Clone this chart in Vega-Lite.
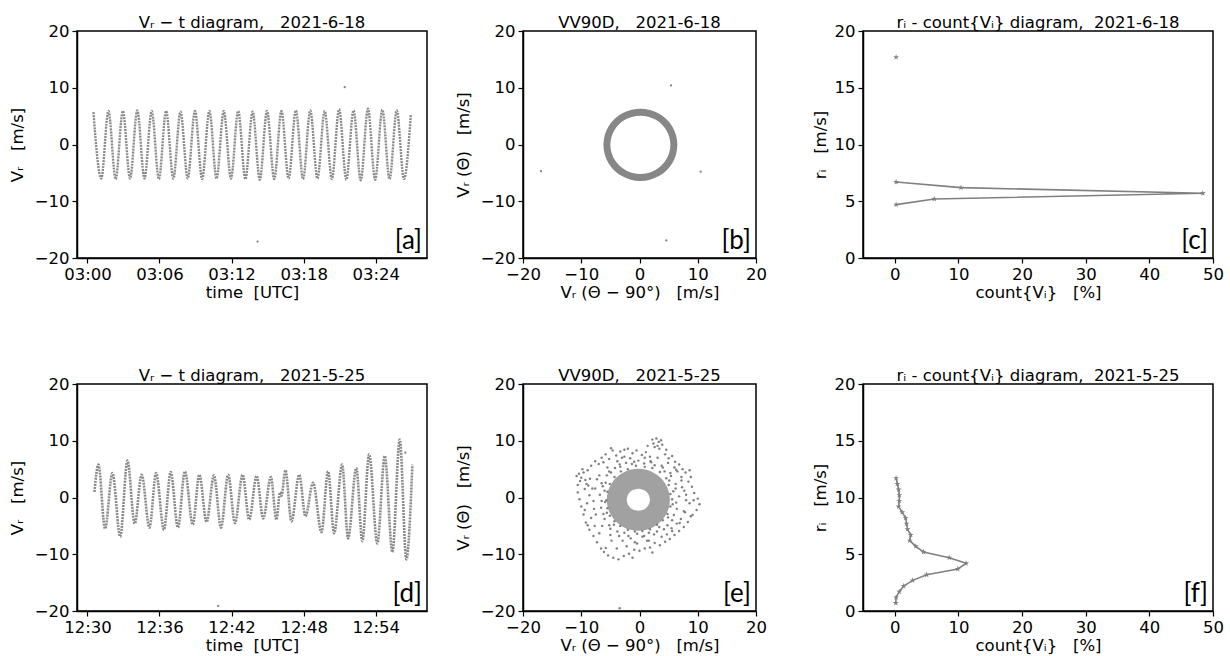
{
"$schema": "https://vega.github.io/schema/vega-lite/v6.json",
"padding": {"left": 8, "top": 13, "right": 5, "bottom": 0},
"config": {
  "font": "DejaVu Sans",
  "view": {"stroke": "black", "strokeWidth": 1.5},
  "axis": {"domainColor": "black", "domainWidth": 1.5, "tickColor": "black", "tickWidth": 1.2, "tickSize": 5, "labelFont": "DejaVu Sans", "labelFontSize": 16.5, "labelColor": "black", "titleFont": "DejaVu Sans", "titleFontSize": 16.5, "titleFontWeight": "normal", "titleColor": "black", "grid": false, "labelFlush": false, "labelOverlap": false, "labelPadding": 3},
  "axisX": {"titlePadding": 2},
  "title": {"font": "DejaVu Sans", "fontSize": 16.5, "fontWeight": "normal", "color": "black", "offset": -8}
},
"datasets": {
  "a_line": [
    {"t":"2021-06-18T03:00:30Z","v":5.7},{"t":"2021-06-18T03:01:09Z","v":-6.0},{"t":"2021-06-18T03:01:45Z","v":5.9},{"t":"2021-06-18T03:02:21Z","v":-6.1},
    {"t":"2021-06-18T03:02:57Z","v":5.9},{"t":"2021-06-18T03:03:33Z","v":-6.0},{"t":"2021-06-18T03:04:09Z","v":6.0},{"t":"2021-06-18T03:04:45Z","v":-6.0},
    {"t":"2021-06-18T03:05:21Z","v":5.9},{"t":"2021-06-18T03:05:57Z","v":-6.1},{"t":"2021-06-18T03:06:33Z","v":5.9},{"t":"2021-06-18T03:07:09Z","v":-6.0},
    {"t":"2021-06-18T03:07:45Z","v":5.8},{"t":"2021-06-18T03:08:21Z","v":-6.0},{"t":"2021-06-18T03:08:57Z","v":5.9},{"t":"2021-06-18T03:09:33Z","v":-6.1},
    {"t":"2021-06-18T03:10:09Z","v":5.9},{"t":"2021-06-18T03:10:45Z","v":-6.0},{"t":"2021-06-18T03:11:21Z","v":5.9},{"t":"2021-06-18T03:11:57Z","v":-6.0},
    {"t":"2021-06-18T03:12:33Z","v":5.9},{"t":"2021-06-18T03:13:09Z","v":-6.1},{"t":"2021-06-18T03:13:45Z","v":5.8},{"t":"2021-06-18T03:14:21Z","v":-6.2},
    {"t":"2021-06-18T03:14:57Z","v":5.9},{"t":"2021-06-18T03:15:33Z","v":-6.1},{"t":"2021-06-18T03:16:09Z","v":5.9},{"t":"2021-06-18T03:16:45Z","v":-6.0},
    {"t":"2021-06-18T03:17:21Z","v":6.0},{"t":"2021-06-18T03:17:57Z","v":-6.1},{"t":"2021-06-18T03:18:33Z","v":6.0},{"t":"2021-06-18T03:19:09Z","v":-6.0},
    {"t":"2021-06-18T03:19:45Z","v":5.9},{"t":"2021-06-18T03:20:21Z","v":-6.1},{"t":"2021-06-18T03:20:57Z","v":6.2},{"t":"2021-06-18T03:21:33Z","v":-6.2},
    {"t":"2021-06-18T03:22:09Z","v":6.0},{"t":"2021-06-18T03:22:45Z","v":-6.3},{"t":"2021-06-18T03:23:21Z","v":6.3},{"t":"2021-06-18T03:23:57Z","v":-6.2},
    {"t":"2021-06-18T03:24:33Z","v":6.1},{"t":"2021-06-18T03:25:09Z","v":-6.1},{"t":"2021-06-18T03:25:45Z","v":6.0},{"t":"2021-06-18T03:26:21Z","v":-6.1},
    {"t":"2021-06-18T03:26:55Z","v":5.2}
  ],
  "a_out": [{"t":"2021-06-18T03:21:25Z","v":10.1},{"t":"2021-06-18T03:14:10Z","v":-17.1}],
  "b_ring": [
    {"i":0,"x":5.90,"y":-0.05},{"i":1,"x":5.70,"y":1.44},{"i":2,"x":5.13,"y":2.83},{"i":3,"x":4.22,"y":4.02},{"i":4,"x":3.03,"y":4.93},{"i":5,"x":1.64,"y":5.50},
    {"i":6,"x":0.15,"y":5.70},{"i":7,"x":-1.34,"y":5.50},{"i":8,"x":-2.73,"y":4.93},{"i":9,"x":-3.92,"y":4.02},{"i":10,"x":-4.83,"y":2.83},{"i":11,"x":-5.40,"y":1.44},
    {"i":12,"x":-5.60,"y":-0.05},{"i":13,"x":-5.40,"y":-1.54},{"i":14,"x":-4.83,"y":-2.93},{"i":15,"x":-3.92,"y":-4.12},{"i":16,"x":-2.73,"y":-5.03},{"i":17,"x":-1.34,"y":-5.60},
    {"i":18,"x":0.15,"y":-5.80},{"i":19,"x":1.64,"y":-5.60},{"i":20,"x":3.03,"y":-5.03},{"i":21,"x":4.22,"y":-4.12},{"i":22,"x":5.13,"y":-2.93},{"i":23,"x":5.70,"y":-1.54}
  ],
  "b_out": [{"x":5.4,"y":10.4},{"x":-16.9,"y":-4.7},{"x":10.5,"y":-4.8},{"x":4.6,"y":-16.9}],
  "c_pts": [
    {"cnt":0.2,"r":4.7,"g":1},{"cnt":6.2,"r":5.2,"g":1},{"cnt":48.4,"r":5.7,"g":1},{"cnt":10.4,"r":6.2,"g":1},{"cnt":0.2,"r":6.7,"g":1},{"cnt":0.2,"r":17.7,"g":2}
  ],
  "d_line": [
    {"t":"2021-05-25T12:30:35Z","v":1.0},{"t":"2021-05-25T12:30:55Z","v":5.8},{"t":"2021-05-25T12:31:28Z","v":-5.5},{"t":"2021-05-25T12:32:05Z","v":4.3},
    {"t":"2021-05-25T12:32:44Z","v":-6.9},{"t":"2021-05-25T12:33:20Z","v":6.5},{"t":"2021-05-25T12:33:56Z","v":-4.6},{"t":"2021-05-25T12:34:31Z","v":4.0},
    {"t":"2021-05-25T12:35:10Z","v":-5.3},{"t":"2021-05-25T12:35:43Z","v":4.3},{"t":"2021-05-25T12:36:22Z","v":-5.7},{"t":"2021-05-25T12:36:56Z","v":4.5},
    {"t":"2021-05-25T12:37:32Z","v":-5.3},{"t":"2021-05-25T12:38:07Z","v":4.6},{"t":"2021-05-25T12:38:46Z","v":-4.8},{"t":"2021-05-25T12:39:19Z","v":4.0},
    {"t":"2021-05-25T12:39:55Z","v":-4.3},{"t":"2021-05-25T12:40:32Z","v":3.9},{"t":"2021-05-25T12:41:07Z","v":-5.3},{"t":"2021-05-25T12:41:43Z","v":4.0},
    {"t":"2021-05-25T12:42:17Z","v":-4.5},{"t":"2021-05-25T12:42:55Z","v":4.0},{"t":"2021-05-25T12:43:28Z","v":-3.9},{"t":"2021-05-25T12:44:05Z","v":3.8},
    {"t":"2021-05-25T12:44:38Z","v":-3.7},{"t":"2021-05-25T12:45:16Z","v":3.6},{"t":"2021-05-25T12:45:44Z","v":-3.9},{"t":"2021-05-25T12:46:02Z","v":0.9},
    {"t":"2021-05-25T12:46:09Z","v":0.3},{"t":"2021-05-25T12:46:29Z","v":4.8},{"t":"2021-05-25T12:46:59Z","v":-4.2},{"t":"2021-05-25T12:47:38Z","v":4.0},
    {"t":"2021-05-25T12:48:09Z","v":-3.3},{"t":"2021-05-25T12:48:47Z","v":2.6},{"t":"2021-05-25T12:49:29Z","v":-6.1},{"t":"2021-05-25T12:50:02Z","v":4.6},
    {"t":"2021-05-25T12:50:32Z","v":-6.3},{"t":"2021-05-25T12:51:12Z","v":5.8},{"t":"2021-05-25T12:51:42Z","v":-7.2},{"t":"2021-05-25T12:52:23Z","v":5.2},
    {"t":"2021-05-25T12:52:53Z","v":-7.7},{"t":"2021-05-25T12:53:27Z","v":7.6},{"t":"2021-05-25T12:54:08Z","v":-8.1},{"t":"2021-05-25T12:54:45Z","v":7.3},
    {"t":"2021-05-25T12:55:23Z","v":-9.6},{"t":"2021-05-25T12:56:00Z","v":10.2},{"t":"2021-05-25T12:56:33Z","v":-10.9},{"t":"2021-05-25T12:57:03Z","v":5.8}
  ],
  "d_out": [{"t":"2021-05-25T12:40:53Z","v":-19.1},{"t":"2021-05-25T12:56:28Z","v":7.9}],
  "e_ring": [
    {"i":0,"x":3.5,"y":-0.4},{"i":1,"x":3.37,"y":0.56},{"i":2,"x":3.0,"y":1.45},{"i":3,"x":2.42,"y":2.22},{"i":4,"x":1.65,"y":2.80},{"i":5,"x":0.76,"y":3.17},
    {"i":6,"x":-0.2,"y":3.3},{"i":7,"x":-1.16,"y":3.17},{"i":8,"x":-2.05,"y":2.80},{"i":9,"x":-2.82,"y":2.22},{"i":10,"x":-3.40,"y":1.45},{"i":11,"x":-3.77,"y":0.56},
    {"i":12,"x":-3.9,"y":-0.4},{"i":13,"x":-3.77,"y":-1.36},{"i":14,"x":-3.40,"y":-2.25},{"i":15,"x":-2.82,"y":-3.02},{"i":16,"x":-2.05,"y":-3.60},{"i":17,"x":-1.16,"y":-3.97},
    {"i":18,"x":-0.2,"y":-4.1},{"i":19,"x":0.76,"y":-3.97},{"i":20,"x":1.65,"y":-3.60},{"i":21,"x":2.42,"y":-3.02},{"i":22,"x":3.0,"y":-2.25},{"i":23,"x":3.37,"y":-1.36}
  ],
  "e_pts": [
    {"x":-10.8,"y":3.8},{"x":-10.4,"y":4.2},{"x":-10.0,"y":3.5},{"x":-9.6,"y":4.4},{"x":-10.2,"y":2.9},{"x":-9.3,"y":3.1},{"x":-9.8,"y":5.0},{"x":-8.9,"y":4.8},{"x":-10.6,"y":2.2},{"x":-9.1,"y":2.4},
    {"x":-8.3,"y":5.6},{"x":-7.6,"y":6.4},{"x":-7.0,"y":5.9},{"x":-6.5,"y":7.0},{"x":-5.8,"y":7.6},{"x":-5.2,"y":6.8},{"x":-4.6,"y":8.3},{"x":-4.0,"y":7.4},{"x":-3.3,"y":8.1},{"x":-2.6,"y":7.2},
    {"x":-2.0,"y":8.6},{"x":-1.2,"y":7.8},{"x":-0.5,"y":8.3},{"x":0.4,"y":7.5},{"x":1.1,"y":8.0},{"x":1.8,"y":7.2},{"x":-4.9,"y":8.7},
    {"x":2.4,"y":9.5},{"x":2.9,"y":10.4},{"x":3.3,"y":9.8},{"x":3.7,"y":10.1},{"x":2.6,"y":8.9},{"x":3.1,"y":9.1},{"x":3.9,"y":9.3},{"x":3.4,"y":8.6},{"x":2.2,"y":10.2},
    {"x":4.4,"y":7.6},{"x":5.0,"y":6.9},{"x":5.6,"y":7.3},{"x":6.1,"y":6.3},{"x":6.8,"y":5.8},{"x":7.4,"y":5.0},{"x":7.9,"y":4.4},{"x":8.6,"y":4.8},{"x":6.5,"y":4.6},{"x":7.2,"y":3.6},
    {"x":8.4,"y":2.8},{"x":9.0,"y":1.9},{"x":9.4,"y":0.8},{"x":10.0,"y":-0.2},{"x":10.3,"y":-1.2},{"x":9.8,"y":-2.2},{"x":9.1,"y":-3.1},{"x":8.6,"y":-1.0},{"x":8.0,"y":0.5},{"x":7.6,"y":-2.4},{"x":8.8,"y":3.6},
    {"x":8.3,"y":-4.3},{"x":7.6,"y":-5.2},{"x":6.8,"y":-5.9},{"x":6.0,"y":-6.6},{"x":5.2,"y":-7.3},{"x":4.4,"y":-7.8},{"x":6.4,"y":-4.6},{"x":5.5,"y":-5.4},{"x":7.1,"y":-3.8},{"x":3.5,"y":-8.4},
    {"x":2.6,"y":-8.0},{"x":1.8,"y":-8.8},{"x":0.9,"y":-9.0},{"x":0.0,"y":-9.4},{"x":-0.9,"y":-9.2},{"x":-1.8,"y":-9.9},{"x":-2.7,"y":-10.3},{"x":-3.6,"y":-10.9},{"x":-4.5,"y":-10.6},{"x":-5.4,"y":-10.2},
    {"x":-2.2,"y":-8.6},{"x":-0.4,"y":-8.1},{"x":1.3,"y":-7.6},{"x":-3.9,"y":-9.0},{"x":-5.8,"y":-8.9},
    {"x":-6.6,"y":-9.0},{"x":-7.3,"y":-7.9},{"x":-7.9,"y":-6.8},{"x":-8.6,"y":-5.7},{"x":-9.2,"y":-4.4},{"x":-6.9,"y":-6.3},{"x":-7.7,"y":-5.0},{"x":-8.3,"y":-3.6},
    {"x":-9.6,"y":-3.0},{"x":-10.0,"y":-1.6},{"x":-10.3,"y":-0.3},{"x":-10.6,"y":0.9},{"x":-9.0,"y":-1.0},{"x":-8.6,"y":0.4},{"x":-8.1,"y":1.6},{"x":-8.8,"y":2.1},{"x":-9.4,"y":-2.2},
    {"x":-6.5,"y":2.5},{"x":-6.8,"y":0.5},{"x":-6.6,"y":-1.8},{"x":-6.0,"y":-3.8},{"x":-5.0,"y":-5.5},{"x":-3.5,"y":-6.8},{"x":-1.5,"y":-7.2},{"x":0.5,"y":-6.9},{"x":2.5,"y":-6.5},{"x":4.2,"y":-5.6},
    {"x":5.6,"y":-4.0},{"x":6.4,"y":-2.0},{"x":6.8,"y":0.2},{"x":6.2,"y":2.4},{"x":5.3,"y":4.3},{"x":3.8,"y":5.6},{"x":1.9,"y":6.4},{"x":-0.2,"y":6.5},{"x":-2.3,"y":6.1},{"x":-4.2,"y":5.2},{"x":-5.6,"y":3.9},
    {"x":-7.3,"y":3.2},{"x":-7.8,"y":-2.0},{"x":-4.8,"y":-7.6},{"x":4.7,"y":-6.5},{"x":7.3,"y":1.8},{"x":6.0,"y":5.3},{"x":-3.0,"y":7.0},{"x":-2.6,"y":8.4},
    {"x":-6.0,"y":1.2},{"x":-5.9,"y":-0.8},{"x":-5.6,"y":-2.7},{"x":-4.4,"y":-4.8},{"x":-2.6,"y":-6.2},{"x":-0.4,"y":-6.4},{"x":1.6,"y":-6.2},{"x":3.4,"y":-5.2},{"x":4.9,"y":-3.5},{"x":5.7,"y":-1.2},
    {"x":5.8,"y":1.1},{"x":5.1,"y":3.0},{"x":4.3,"y":4.6},{"x":2.6,"y":5.7},{"x":0.8,"y":6.0},{"x":-1.3,"y":5.9},{"x":-3.3,"y":5.4},{"x":-4.9,"y":4.4},{"x":-5.8,"y":2.6},
    {"x":5.3,"y":0.6},{"x":5.0,"y":2.2},{"x":4.6,"y":3.4},{"x":3.5,"y":4.5},{"x":2.2,"y":5.2},{"x":0.9,"y":5.4},{"x":-0.6,"y":5.6},{"x":-2.0,"y":5.0},{"x":-3.2,"y":4.6},{"x":-4.3,"y":3.6},
    {"x":-5.1,"y":2.4},{"x":-5.5,"y":1.0},{"x":-5.7,"y":-0.5},{"x":-5.5,"y":-1.9},{"x":-5.1,"y":-3.2},{"x":-4.3,"y":-4.2},{"x":-3.3,"y":-5.0},{"x":-2.0,"y":-5.7},{"x":-0.8,"y":-6.0},{"x":0.5,"y":-5.9},
    {"x":1.8,"y":-5.6},{"x":3.0,"y":-4.8},{"x":4.0,"y":-4.0},{"x":4.8,"y":-2.9},{"x":5.3,"y":-1.6},{"x":5.6,"y":-0.3},
    {"x":6.2,"y":1.6},{"x":5.4,"y":3.8},{"x":4.0,"y":5.3},{"x":2.0,"y":6.2},{"x":-0.9,"y":6.3},{"x":-3.4,"y":5.8},{"x":-5.2,"y":4.6},{"x":-6.3,"y":2.0},{"x":-6.5,"y":-0.6},{"x":-6.2,"y":-2.9},
    {"x":-5.2,"y":-4.9},{"x":-3.8,"y":-6.0},{"x":-1.9,"y":-6.8},{"x":0.8,"y":-6.8},{"x":3.0,"y":-6.0},{"x":4.8,"y":-4.9},{"x":5.9,"y":-3.1},{"x":6.3,"y":-0.9},
    {"x":7.2,"y":3.0},{"x":6.3,"y":4.9},{"x":4.9,"y":6.1},{"x":3.1,"y":7.0},{"x":0.9,"y":7.0},{"x":-1.6,"y":6.9},{"x":-3.8,"y":6.4},{"x":-5.5,"y":5.3},{"x":-6.9,"y":3.9},{"x":-7.6,"y":1.6},
    {"x":-7.9,"y":-0.6},{"x":-7.5,"y":-3.0},{"x":-6.4,"y":-5.0},{"x":-5.0,"y":-6.6},{"x":-2.9,"y":-7.6},{"x":-0.8,"y":-7.9},{"x":1.6,"y":-7.6},{"x":3.8,"y":-6.9},{"x":5.6,"y":-5.9},{"x":6.9,"y":-4.5},
    {"x":7.8,"y":-2.6},{"x":8.0,"y":-0.5},{"x":7.7,"y":1.2},{"x":-9.4,"y":1.5},{"x":-8.5,"y":3.3},{"x":-6.2,"y":6.2},{"x":1.4,"y":9.1},{"x":4.6,"y":8.4},{"x":9.3,"y":-0.5},{"x":8.8,"y":-3.3},
    {"x":2.2,"y":-9.7},{"x":-1.2,"y":-10.6},{"x":-6.1,"y":-9.6},{"x":-8.9,"y":-4.9},
    {"x":-3.4,"y":-19.5}
  ],
  "f_pts": [
    {"cnt":0.15,"r":0.7},{"cnt":0.2,"r":1.2},{"cnt":0.7,"r":1.7},{"cnt":1.4,"r":2.2},{"cnt":2.8,"r":2.7},{"cnt":5.0,"r":3.2},{"cnt":9.9,"r":3.7},{"cnt":11.2,"r":4.2},
    {"cnt":8.55,"r":4.7},{"cnt":4.5,"r":5.2},{"cnt":3.3,"r":5.7},{"cnt":2.35,"r":6.2},{"cnt":2.5,"r":6.7},{"cnt":2.0,"r":7.2},{"cnt":1.85,"r":7.7},{"cnt":1.7,"r":8.2},
    {"cnt":1.15,"r":8.7},{"cnt":0.6,"r":9.2},{"cnt":0.7,"r":9.7},{"cnt":0.7,"r":10.2},{"cnt":0.6,"r":10.7},{"cnt":0.4,"r":11.2},{"cnt":0.2,"r":11.7}
  ]
},
"vconcat": [
  {"hconcat": [
    {"hconcat": [
      {"width": 350, "height": 227, "title": "Vᵣ − t diagram,\u00a0\u00a0 2021-6-18",
       "layer": [
        {"data": {"name": "a_line"}, "mark": {"type": "line", "interpolate": "monotone", "color": "#8a8a8a", "strokeWidth": 2.4, "strokeDash": [2, 1]},
         "encoding": {
           "x": {"field": "t", "type": "temporal", "scale": {"type": "utc", "nice": false, "domain": [1623985148000, 1623986896000]}, "axis": {"title": "time\u00a0\u00a0[UTC]", "values": [1623985200000, 1623985560000, 1623985920000, 1623986280000, 1623986640000], "labelExpr": "utcFormat(datum.value, '%H:%M')"}},
           "y": {"field": "v", "type": "quantitative", "scale": {"domain": [-20, 20], "nice": false}, "axis": {"title": "Vᵣ\u00a0\u00a0\u00a0[m/s]", "values": [-20, -10, 0, 10, 20], "minExtent": 41, "maxExtent": 41, "titlePadding": 11}}}},
        {"data": {"name": "a_out"}, "mark": {"type": "point", "filled": true, "shape": "circle", "color": "#808080", "size": 5, "opacity": 1},
         "encoding": {"x": {"field": "t", "type": "temporal"}, "y": {"field": "v", "type": "quantitative"}}},
        {"data": {"values": [{"lx": 1623986896000, "ly": -20, "lab": "[a]"}]}, "mark": {"type": "text", "font": "Lato", "fontSize": 26, "align": "right", "baseline": "bottom", "dx": -5, "dy": -4, "color": "black"},
         "encoding": {"x": {"field": "lx", "type": "temporal"}, "y": {"field": "ly", "type": "quantitative"}, "text": {"field": "lab"}}}
       ]},
      {"width": 233, "height": 227, "title": "VV90D,\u00a0\u00a0 2021-6-18",
       "layer": [
        {"data": {"name": "b_ring"}, "mark": {"type": "line", "interpolate": "cardinal-closed", "color": "#878787", "strokeWidth": 7},
         "encoding": {
           "x": {"field": "x", "type": "quantitative", "scale": {"domain": [-20, 20], "nice": false}, "axis": {"title": "Vᵣ (Θ − 90°)\u00a0\u00a0\u00a0[m/s]", "values": [-20, -10, 0, 10, 20]}},
           "y": {"field": "y", "type": "quantitative", "scale": {"domain": [-20, 20], "nice": false}, "axis": {"title": "Vᵣ (Θ)\u00a0\u00a0\u00a0[m/s]", "values": [-20, -10, 0, 10, 20], "minExtent": 41, "maxExtent": 41, "titlePadding": 11}},
           "order": {"field": "i", "type": "quantitative"}}},
        {"data": {"name": "b_out"}, "mark": {"type": "point", "filled": true, "shape": "circle", "color": "#808080", "size": 5, "opacity": 1},
         "encoding": {"x": {"field": "x", "type": "quantitative"}, "y": {"field": "y", "type": "quantitative"}}},
        {"data": {"values": [{"lx": 20, "ly": -20, "lab": "[b]"}]}, "mark": {"type": "text", "font": "Lato", "fontSize": 26, "align": "right", "baseline": "bottom", "dx": -5, "dy": -4, "color": "black"},
         "encoding": {"x": {"field": "lx", "type": "quantitative"}, "y": {"field": "ly", "type": "quantitative"}, "text": {"field": "lab"}}}
       ]}
    ], "spacing": 26},
    {"width": 350, "height": 227, "title": "rᵢ - count{Vᵢ} diagram,\u00a0 2021-6-18",
     "layer": [
      {"data": {"name": "c_pts"}, "mark": {"type": "line", "color": "#808080", "strokeWidth": 1.6},
       "encoding": {
         "x": {"field": "cnt", "type": "quantitative", "scale": {"domain": [-5, 50], "nice": false, "zero": false}, "axis": {"title": "count{Vᵢ}\u00a0\u00a0\u00a0[%]", "values": [0, 10, 20, 30, 40, 50]}},
         "y": {"field": "r", "type": "quantitative", "scale": {"domain": [0, 20], "nice": false}, "axis": {"title": "rᵢ\u00a0\u00a0\u00a0[m/s]", "values": [0, 5, 10, 15, 20], "minExtent": 29, "maxExtent": 29, "titlePadding": 6}},
         "detail": {"field": "g", "type": "nominal"},
         "order": {"field": "r", "type": "quantitative"}}},
      {"data": {"name": "c_pts"}, "mark": {"type": "point", "filled": true, "color": "#808080", "size": 40, "opacity": 1, "shape": "M0,-1L0.225,-0.309L0.951,-0.309L0.363,0.118L0.588,0.809L0,0.382L-0.588,0.809L-0.363,0.118L-0.951,-0.309L-0.225,-0.309Z"},
       "encoding": {"x": {"field": "cnt", "type": "quantitative"}, "y": {"field": "r", "type": "quantitative"}}},
      {"data": {"values": [{"lx": 50, "ly": 0, "lab": "[c]"}]}, "mark": {"type": "text", "font": "Lato", "fontSize": 26, "align": "right", "baseline": "bottom", "dx": -5, "dy": -4, "color": "black"},
       "encoding": {"x": {"field": "lx", "type": "quantitative"}, "y": {"field": "ly", "type": "quantitative"}, "text": {"field": "lab"}}}
     ]}
  ], "spacing": 43},
  {"hconcat": [
    {"hconcat": [
      {"width": 350, "height": 227, "title": "Vᵣ − t diagram,\u00a0\u00a0 2021-5-25",
       "layer": [
        {"data": {"name": "d_line"}, "mark": {"type": "line", "interpolate": "monotone", "color": "#8a8a8a", "strokeWidth": 2.6, "strokeDash": [2, 1]},
         "encoding": {
           "x": {"field": "t", "type": "temporal", "scale": {"type": "utc", "nice": false, "domain": [1621945748000, 1621947496000]}, "axis": {"title": "time\u00a0\u00a0[UTC]", "values": [1621945800000, 1621946160000, 1621946520000, 1621946880000, 1621947240000], "labelExpr": "utcFormat(datum.value, '%H:%M')"}},
           "y": {"field": "v", "type": "quantitative", "scale": {"domain": [-20, 20], "nice": false}, "axis": {"title": "Vᵣ\u00a0\u00a0\u00a0[m/s]", "values": [-20, -10, 0, 10, 20], "minExtent": 41, "maxExtent": 41, "titlePadding": 11}}}},
        {"data": {"name": "d_out"}, "mark": {"type": "point", "filled": true, "shape": "circle", "color": "#808080", "size": 5, "opacity": 1},
         "encoding": {"x": {"field": "t", "type": "temporal"}, "y": {"field": "v", "type": "quantitative"}}},
        {"data": {"values": [{"lx": 1621947496000, "ly": -20, "lab": "[d]"}]}, "mark": {"type": "text", "font": "Lato", "fontSize": 26, "align": "right", "baseline": "bottom", "dx": -5, "dy": -4, "color": "black"},
         "encoding": {"x": {"field": "lx", "type": "temporal"}, "y": {"field": "ly", "type": "quantitative"}, "text": {"field": "lab"}}}
       ]},
      {"width": 233, "height": 227, "title": "VV90D,\u00a0\u00a0 2021-5-25",
       "layer": [
        {"data": {"name": "e_ring"}, "mark": {"type": "line", "interpolate": "cardinal-closed", "color": "#8a8a8a", "strokeWidth": 20, "opacity": 0.8},
         "encoding": {
           "x": {"field": "x", "type": "quantitative", "scale": {"domain": [-20, 20], "nice": false}, "axis": {"title": "Vᵣ (Θ − 90°)\u00a0\u00a0\u00a0[m/s]", "values": [-20, -10, 0, 10, 20]}},
           "y": {"field": "y", "type": "quantitative", "scale": {"domain": [-20, 20], "nice": false}, "axis": {"title": "Vᵣ (Θ)\u00a0\u00a0\u00a0[m/s]", "values": [-20, -10, 0, 10, 20], "minExtent": 41, "maxExtent": 41, "titlePadding": 11}},
           "order": {"field": "i", "type": "quantitative"}}},
        {"data": {"name": "e_pts"}, "mark": {"type": "point", "filled": true, "shape": "circle", "color": "#808080", "size": 6, "opacity": 1},
         "encoding": {"x": {"field": "x", "type": "quantitative"}, "y": {"field": "y", "type": "quantitative"}}},
        {"data": {"values": [{"lx": 20, "ly": -20, "lab": "[e]"}]}, "mark": {"type": "text", "font": "Lato", "fontSize": 26, "align": "right", "baseline": "bottom", "dx": -5, "dy": -4, "color": "black"},
         "encoding": {"x": {"field": "lx", "type": "quantitative"}, "y": {"field": "ly", "type": "quantitative"}, "text": {"field": "lab"}}}
       ]}
    ], "spacing": 26},
    {"width": 350, "height": 227, "title": "rᵢ - count{Vᵢ} diagram,\u00a0 2021-5-25",
     "layer": [
      {"data": {"name": "f_pts"}, "mark": {"type": "line", "color": "#808080", "strokeWidth": 1.6},
       "encoding": {
         "x": {"field": "cnt", "type": "quantitative", "scale": {"domain": [-5, 50], "nice": false, "zero": false}, "axis": {"title": "count{Vᵢ}\u00a0\u00a0\u00a0[%]", "values": [0, 10, 20, 30, 40, 50]}},
         "y": {"field": "r", "type": "quantitative", "scale": {"domain": [0, 20], "nice": false}, "axis": {"title": "rᵢ\u00a0\u00a0\u00a0[m/s]", "values": [0, 5, 10, 15, 20], "minExtent": 29, "maxExtent": 29, "titlePadding": 6}},
         "order": {"field": "r", "type": "quantitative"}}},
      {"data": {"name": "f_pts"}, "mark": {"type": "point", "filled": true, "color": "#808080", "size": 40, "opacity": 1, "shape": "M0,-1L0.225,-0.309L0.951,-0.309L0.363,0.118L0.588,0.809L0,0.382L-0.588,0.809L-0.363,0.118L-0.951,-0.309L-0.225,-0.309Z"},
       "encoding": {"x": {"field": "cnt", "type": "quantitative"}, "y": {"field": "r", "type": "quantitative"}}},
      {"data": {"values": [{"lx": 50, "ly": 0, "lab": "[f]"}]}, "mark": {"type": "text", "font": "Lato", "fontSize": 26, "align": "right", "baseline": "bottom", "dx": -5, "dy": -4, "color": "black"},
       "encoding": {"x": {"field": "lx", "type": "quantitative"}, "y": {"field": "ly", "type": "quantitative"}, "text": {"field": "lab"}}}
     ]}
  ], "spacing": 43}
],
"spacing": 64
}
